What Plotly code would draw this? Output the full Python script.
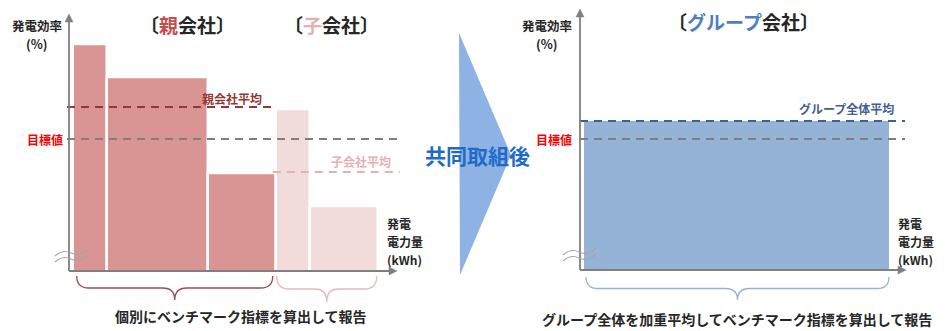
import plotly.graph_objects as go

# The page body keeps its default 8px margin, so the figure is sized to fit the
# 945x331 window from that offset; all geometry below is in window pixels.
WIN_W, WIN_H, PAD = 945, 331, 8
W, H = WIN_W - PAD, WIN_H - PAD

# 発電電力量 (relative kWh) and 発電効率 (%)
parent_gen = [34, 101, 68]
parent_eff = [52.7, 49.4, 39.8]
sub_gen = [34, 68]
sub_eff = [46.2, 36.5]

parent_avg = 46.4
sub_avg = 39.9
group_avg = 45.0
target = 43.2

FONT = "Noto Sans CJK JP"
INK = "#262626"
AXIS = "#7f7f7f"
PARENT_FILL, PARENT_INK = "#d99594", "#953735"
SUB_FILL, SUB_INK = "#f2dcdb", "#e6b0b0"
GROUP_FILL, GROUP_INK = "#95b3d7", "#3d5f91"

# pixel geometry of the two panels (x data unit = 1 px)
X0_L, X0_R = 72.75, 584.0          # pixel where generation 0 sits
Y_BOT, Y_TOP = 271, 9              # pixel rows of the efficiency axis
EFF_MIN = 30.0
EFF_MAX = EFF_MIN + (Y_BOT - Y_TOP) / 10.0


def px(x):
    return (x - PAD) / W


def py(y):
    return (WIN_H - y) / H


def cum_left(gens, start=0.0):
    out, acc = [], start
    for g in gens:
        out.append(acc)
        acc += g
    return out, acc


p_left, p_end = cum_left(parent_gen)
s_left, s_end = cum_left(sub_gen, p_end)
total_gen = s_end

fig = go.Figure()

# left panel bars
fig.add_trace(go.Bar(
    x=[l + g / 2 for l, g in zip(p_left, parent_gen)], y=parent_eff, width=parent_gen,
    marker=dict(color=PARENT_FILL, line=dict(color="white", width=2.5)),
    xaxis="x", yaxis="y", showlegend=False, hoverinfo="skip"))
fig.add_trace(go.Bar(
    x=[l + g / 2 for l, g in zip(s_left, sub_gen)], y=sub_eff, width=sub_gen,
    marker=dict(color=SUB_FILL, line=dict(color="white", width=2.5)),
    xaxis="x", yaxis="y", showlegend=False, hoverinfo="skip"))

# right panel: one block for the whole group
fig.add_trace(go.Bar(
    x=[total_gen / 2], y=[group_avg], width=[total_gen],
    marker=dict(color=GROUP_FILL, line=dict(width=0)),
    xaxis="x2", yaxis="y2", showlegend=False, hoverinfo="skip"))


def hline(y, x0, x1, color, axes):
    xa, ya = axes
    fig.add_trace(go.Scatter(
        x=[x0, x1], y=[y, y], mode="lines", xaxis=xa, yaxis=ya,
        line=dict(color=color, width=1.8, dash="8px,6px"),
        showlegend=False, hoverinfo="skip"))


hline(parent_avg, -5.75, p_end - 3, PARENT_INK, ("x", "y"))
hline(target, -5.75, 327, AXIS, ("x", "y"))
hline(sub_avg, p_end - 3, 327, SUB_INK, ("x", "y"))
hline(group_avg, -4, 321, GROUP_INK, ("x2", "y2"))
hline(target, -4, 321, AXIS, ("x2", "y2"))

dom_y = [py(Y_BOT), py(Y_TOP)]
fig.update_layout(
    width=W, height=H, margin=dict(l=0, r=0, t=0, b=0),
    paper_bgcolor="white", plot_bgcolor="rgba(0,0,0,0)",
    barmode="overlay", font=dict(family=FONT, color=INK),
    xaxis=dict(domain=[px(64), px(404)], range=[64 - X0_L, 404 - X0_L], visible=False),
    yaxis=dict(domain=dom_y, range=[EFF_MIN, EFF_MAX], visible=False),
    xaxis2=dict(domain=[px(575), px(910)], range=[575 - X0_R, 910 - X0_R], visible=False),
    yaxis2=dict(domain=dom_y, range=[EFF_MIN, EFF_MAX], visible=False, anchor="x2"),
)

ann = []


def text(x, y, s, size, color=INK, bold=True, xanchor="center", align="center"):
    ann.append(dict(
        x=px(x), y=py(y), xref="paper", yref="paper", showarrow=False,
        text=f"<b>{s}</b>" if bold else s, xanchor=xanchor, yanchor="middle", align=align,
        font=dict(family=FONT, size=size, color=color)))


# titles
text(187, 24, f'〔<span style="color:#c0504d">親</span>会社〕', 19)
text(331, 24, f'〔<span style="color:{SUB_INK}">子</span>会社〕', 19)
text(743, 22, f'〔<span style="color:#4f7fc0">グループ</span>会社〕', 19)

# axis titles, one line per annotation
for cx in (37, 547):
    text(cx, 25, "発電効率", 12.5)
    text(cx, 43, "(%)", 12.5)
for lx in (385, 896):
    for ly, s in ((223, "発電"), (241, "電力量"), (259, "(kWh)")):
        text(lx, ly, s, 12, xanchor="left", align="left")

# line labels
text(232, 98, "親会社平均", 12, PARENT_INK)
text(361, 161, "子会社平均", 12, SUB_INK)
text(846, 108, "グループ全体平均", 12, GROUP_INK)
text(45, 139, "目標値", 12, "#ff0000")
text(554, 139, "目標値", 12, "#ff0000")

text(477, 155, "共同取組後", 21, "#1f6cc8")

# footers
text(241, 316, "個別にベンチマーク指標を算出して報告", 14)
text(737, 319, "グループ全体を加重平均してベンチマーク指標を算出して報告", 14)

fig.update_layout(annotations=ann)

shapes = []


def P(x, y):
    return f"{px(x):.5f},{py(y):.5f}"


def path(points_cmd, color, width=1.2, fill=None, layer="above"):
    shapes.append(dict(
        type="path", xref="paper", yref="paper", path=points_cmd,
        line=dict(color=color, width=width),
        fillcolor=fill if fill else "rgba(0,0,0,0)", layer=layer))


def axes_l(ox, oy, ytip, xtip):
    # y axis + x axis as lines, with small filled arrowheads
    path(f"M{P(ox, oy)} L{P(ox, ytip + 5)}", AXIS, 1.8)
    path(f"M{P(ox, oy)} L{P(xtip - 5, oy)}", AXIS, 1.8)
    path(f"M{P(ox, ytip)} L{P(ox - 4, ytip + 8)} L{P(ox + 4, ytip + 8)} Z", AXIS, 0.5, AXIS)
    path(f"M{P(xtip, oy)} L{P(xtip - 8, oy - 4)} L{P(xtip - 8, oy + 4)} Z", AXIS, 0.5, AXIS)


axes_l(69, Y_BOT, 14, 397)
axes_l(580, 270, 9, 906)


def brace(x0, x1, y0, y1, color):
    mid, ym = (x0 + x1) / 2, (y0 + y1) / 2
    r = 12
    d = (f"M{P(x0, y0)} Q{P(x0, ym)} {P(x0 + r, ym)} L{P(mid - r, ym)} "
         f"Q{P(mid, ym)} {P(mid, y1)} Q{P(mid, ym)} {P(mid + r, ym)} "
         f"L{P(x1 - r, ym)} Q{P(x1, ym)} {P(x1, y0)}")
    path(d, color, 1.3)


brace(X0_L + 4, X0_L + p_end - 3, 276, 300, "#a34a48")
brace(X0_L + p_end + 1, X0_L + s_end - 1, 276, 302, "#e6b9b8")
brace(X0_R + 2, X0_R + total_gen, 277, 300, GROUP_FILL)

# axis break marks
for bx, by in ((55, 256), (563, 255)):
    for off in (0, 6):
        y = by + off
        path(f"M{P(bx, y)} Q{P(bx + 8, y - 7)} {P(bx + 16, y - 3)} "
             f"T{P(bx + 33, y - 7)}", "#a6a6a6", 1.1)

# big transition arrow
path(f"M{P(459, 33)} L{P(511, 155)} L{P(460, 275)} Z", "#8db2e3", 0, "#8db2e3", "below")

fig.update_layout(shapes=shapes)

fig.write_html("out.html")
